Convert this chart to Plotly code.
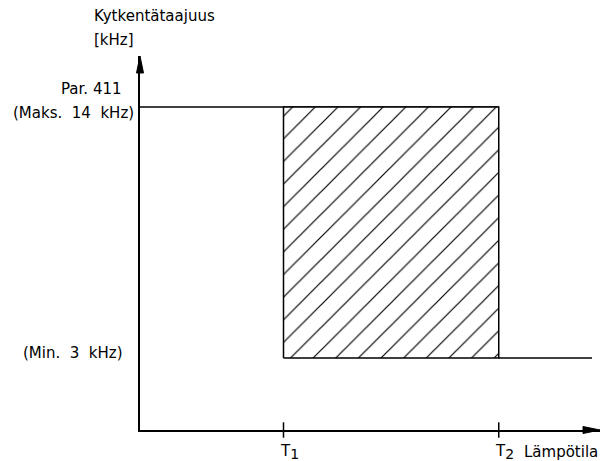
import plotly.graph_objects as go

# ---- data (schematic values) ----
t1 = 1.0            # T1 position on temperature axis
t2 = 2.5            # T2 position on temperature axis
x_end = 3.15        # end of the min-frequency line
freq_max = 14       # Par. 411 (Maks. 14 kHz)
freq_min = 3        # Min. 3 kHz
tick_vals = [t1, t2]
tick_text = ["T<sub><span style='font-size:14px'>1</span></sub>",
             "T<sub><span style='font-size:14px'>2</span></sub>"]
y_title = ["Kytkentätaajuus", "[kHz]"]
x_title = "Lämpötila"
max_labels = ["Par. 411", "(Maks.\u00a0 14\u00a0 kHz)"]
min_label = "(Min.\u00a0 3\u00a0 kHz)"

# ---- axes ranges ----
x_range = [0, 460 / 143.5]
y_range = [-0.156, 16.235]

FONT = "DejaVu Sans"
BLACK = "#000000"

fig = go.Figure()

# max-frequency line
fig.add_trace(go.Scatter(x=[0, t2], y=[freq_max, freq_max], mode="lines",
                         line=dict(color=BLACK, width=1.5), hoverinfo="skip"))
# hatched rectangle
fig.add_trace(go.Scatter(x=[t1, t1, t2, t2, t1], y=[freq_min, freq_max, freq_max, freq_min, freq_min],
                         mode="lines", fill="toself", fillcolor="rgba(0,0,0,0)",
                         fillpattern=dict(shape="/", size=16, solidity=0.075, fgcolor=BLACK,
                                          fgopacity=1, bgcolor="white"),
                         line=dict(color=BLACK, width=1.5), hoverinfo="skip"))
# min-frequency line
fig.add_trace(go.Scatter(x=[t2, x_end], y=[freq_min, freq_min], mode="lines",
                         line=dict(color=BLACK, width=1.5), hoverinfo="skip"))
# tick marks crossing the x axis
fig.add_trace(go.Scatter(x=tick_vals, y=[y_range[0]] * len(tick_vals), mode="markers",
                         marker=dict(symbol="line-ns", size=11, line=dict(color=BLACK, width=1.5)),
                         cliponaxis=False, hoverinfo="skip"))

fig.update_layout(
    width=603, height=461,
    margin=dict(l=140, r=3, t=56, b=31),
    paper_bgcolor="white", plot_bgcolor="white",
    showlegend=False,
    font=dict(family=FONT, size=15, color=BLACK),
    xaxis=dict(range=x_range, showgrid=False, zeroline=False, showline=True,
               linecolor=BLACK, linewidth=1.5, showticklabels=False,
               ticks="", fixedrange=True),
    yaxis=dict(range=y_range, showgrid=False, zeroline=False, showline=True,
               linecolor=BLACK, linewidth=1.5, showticklabels=False, ticks="", fixedrange=True),
)

# arrowheads (pixel-sized paths anchored at the axis ends, paper refs so not clipped)
fig.add_shape(type="path", xref="paper", yref="paper", xsizemode="pixel", ysizemode="pixel",
              xanchor=0, yanchor=1, path="M0,0 L-3.5,-17 L3.5,-17 Z",
              fillcolor=BLACK, line=dict(color=BLACK, width=1))
fig.add_shape(type="path", xref="paper", yref="paper", xsizemode="pixel", ysizemode="pixel",
              xanchor=1, yanchor=0, path="M0,0 L-17,3.5 L-17,-3.5 Z",
              fillcolor=BLACK, line=dict(color=BLACK, width=1))

# T1 / T2 labels under the ticks
for tv, tt in zip(tick_vals, tick_text):
    fig.add_annotation(x=tv, y=y_range[0], xref="x", yref="y", xshift=-6, yshift=-10,
                       xanchor="left", yanchor="top", text=tt, showarrow=False)

# text labels
fig.add_annotation(x=0, y=1, xref="x", yref="paper", xshift=-48, yshift=40,
                   xanchor="left", yanchor="middle", text=y_title[0], showarrow=False)
fig.add_annotation(x=0, y=1, xref="x", yref="paper", xshift=-48, yshift=16,
                   xanchor="left", yanchor="middle", text=y_title[1], showarrow=False)
fig.add_annotation(x=0, y=freq_max, xref="x", yref="y", xshift=-16, yshift=18,
                   xanchor="right", yanchor="middle", text=max_labels[0], showarrow=False)
fig.add_annotation(x=0, y=freq_max, xref="x", yref="y", xshift=-4, yshift=-6,
                   xanchor="right", yanchor="middle", text=max_labels[1], showarrow=False)
fig.add_annotation(x=0, y=freq_min, xref="x", yref="y", xshift=-15, yshift=5,
                   xanchor="right", yanchor="middle", text=min_label, showarrow=False)
fig.add_annotation(x=x_range[1], y=y_range[0], xref="x", yref="y", xshift=0, yshift=-22,
                   xanchor="right", yanchor="middle", text=x_title, showarrow=False)

fig.write_html("out.html", config={"displayModeBar": False},
               post_script="document.body.style.margin='0';document.body.style.overflow='hidden';")
